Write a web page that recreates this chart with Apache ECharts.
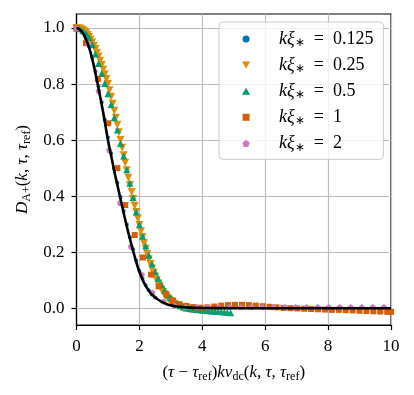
<!DOCTYPE html>
<html>
<head>
<meta charset="utf-8">
<script src="https://cdn.jsdelivr.net/npm/echarts@6.0.0/dist/echarts.min.js"></script>
<style>
  html, body { margin: 0; padding: 0; background: #fff; }
  #echart { width: 414px; height: 395px; }
</style>
</head>
<body>
<div id="echart"></div>
<script>
// x = (tau - tau_ref) k v_dc, y = D_A+(k, tau, tau_ref)
const legendNames = ['0.125', '0.25', '0.5', '1', '2']

// reference curve (black line)
const refX = [0, 0.1, 0.2, 0.3, 0.4, 0.5, 0.6, 0.7, 0.8, 0.9, 1.0, 1.1, 1.2, 1.3, 1.4, 1.5, 1.6, 1.7, 1.8, 1.9,
  2.0, 2.1, 2.2, 2.3, 2.4, 2.6, 2.8, 3.0, 3.3, 3.6, 4.0, 5, 6, 7, 8, 9, 10]
const refY = [1.0, 0.995, 0.982, 0.96, 0.93, 0.89, 0.84, 0.785, 0.728, 0.665, 0.6, 0.545, 0.49, 0.44, 0.39, 0.34, 0.292, 0.247, 0.205, 0.165,
  0.13, 0.102, 0.08, 0.062, 0.048, 0.03, 0.018, 0.01, 0.005, 0.002, 0.0005, 0, 0, 0, 0, 0, 0]

// k xi = 0.125 (sits almost under the black line)
const blueX = [0, 0.1, 0.2, 0.3, 0.4, 0.5, 0.6, 0.7, 0.8, 0.9, 1.0, 1.1, 1.2, 1.3, 1.4, 1.5, 1.6, 1.7, 1.8, 1.9, 2.0, 2.1, 2.2, 2.3, 2.4, 2.5]
const blueY = [1.0, 0.996, 0.984, 0.963, 0.934, 0.895, 0.846, 0.792, 0.735, 0.673, 0.609, 0.553, 0.498, 0.448, 0.397, 0.347, 0.299, 0.253, 0.21, 0.17,
  0.134, 0.105, 0.082, 0.064, 0.049, 0.038]

// k xi = 0.25
const orangeX = [0, 0.05, 0.1, 0.15, 0.2, 0.25, 0.3, 0.35, 0.4, 0.45, 0.5, 0.55, 0.6, 0.65, 0.7, 0.75, 0.8, 0.85, 0.9, 0.95,
  1.0, 1.05, 1.1, 1.15, 1.2, 1.25, 1.3, 1.35, 1.4, 1.45, 1.5, 1.55, 1.6, 1.65, 1.7, 1.75, 1.8, 1.85, 1.9, 1.95,
  2.0, 2.05, 2.1, 2.15, 2.2, 2.25, 2.3, 2.35, 2.4, 2.45, 2.5, 2.55, 2.6, 2.65, 2.7, 2.75, 2.8, 2.85, 2.9, 2.95,
  3.0, 3.05, 3.1, 3.15, 3.2, 3.25, 3.3, 3.35, 3.4, 3.45, 3.5, 3.55, 3.6, 3.65, 3.7, 3.75, 3.8]
const orangeY = [1.0, 0.999, 0.998, 0.996, 0.993, 0.988, 0.982, 0.975, 0.968, 0.958, 0.948, 0.937, 0.925, 0.912, 0.898, 0.883, 0.868, 0.852, 0.835, 0.818,
  0.8, 0.778, 0.755, 0.73, 0.705, 0.68, 0.655, 0.628, 0.6, 0.573, 0.546, 0.519, 0.492, 0.466, 0.44, 0.415, 0.39, 0.366, 0.343, 0.32,
  0.297, 0.275, 0.253, 0.232, 0.212, 0.193, 0.175, 0.158, 0.142, 0.127, 0.113, 0.1, 0.088, 0.077, 0.067, 0.058, 0.05, 0.043, 0.036, 0.03,
  0.025, 0.02, 0.016, 0.012, 0.009, 0.006, 0.004, 0.002, 0.001, 0, -0.001, -0.002, -0.003, -0.004, -0.004, -0.005, -0.005]

// k xi = 0.5
const greenX = [0, 0.1, 0.2, 0.3, 0.4, 0.5, 0.6, 0.7, 0.8, 0.9, 1.0, 1.1, 1.2, 1.3, 1.4, 1.5, 1.6, 1.7, 1.8, 1.9,
  2.0, 2.1, 2.2, 2.3, 2.4, 2.5, 2.6, 2.7, 2.8, 2.9, 3.0, 3.1, 3.2, 3.3, 3.4, 3.5, 3.6, 3.7, 3.8, 3.9,
  4.0, 4.1, 4.2, 4.3, 4.4, 4.5, 4.6, 4.7, 4.8, 4.9]
const greenY = [1.0, 0.997, 0.99, 0.98, 0.966, 0.94, 0.907, 0.873, 0.838, 0.802, 0.765, 0.727, 0.68, 0.636, 0.588, 0.543, 0.494, 0.446, 0.395, 0.343,
  0.298, 0.257, 0.222, 0.189, 0.158, 0.13, 0.106, 0.084, 0.064, 0.048, 0.036, 0.026, 0.017, 0.01, 0.005, 0.001, -0.001, -0.003, -0.005, -0.006,
  -0.007, -0.008, -0.009, -0.01, -0.011, -0.012, -0.013, -0.014, -0.015, -0.016]

// k xi = 1
const redX = [0, 0.3, 0.68, 1.01, 1.3, 1.55, 1.85, 2.11, 2.37, 2.61, 2.85, 3.07, 3.28, 3.5, 3.72, 3.94, 4.16, 4.38, 4.6, 4.82,
  5.04, 5.26, 5.48, 5.7, 5.92, 6.14, 6.36, 6.58, 6.8, 7.02, 7.24, 7.46, 7.68, 7.9, 8.12, 8.34, 8.56, 8.78, 9.0, 9.22,
  9.44, 9.66, 9.88, 10.0]
const redY = [1.0, 0.946, 0.818, 0.66, 0.5, 0.368, 0.261, 0.181, 0.12, 0.078, 0.05, 0.027, 0.014, 0.008, 0.004, 0.002, 0.003, 0.006, 0.009, 0.011,
  0.012, 0.012, 0.011, 0.009, 0.007, 0.005, 0.003, 0.001, 0, -0.001, -0.002, -0.003, -0.004, -0.005, -0.006, -0.006, -0.007, -0.008, -0.009, -0.01,
  -0.011, -0.012, -0.013, -0.013]

// k xi = 2
const pinkX = [0, 0.36, 0.7, 1.04, 1.38, 1.73, 2.08, 2.42, 2.77, 3.12, 3.47, 3.82, 4.17, 4.52, 4.87, 5.22, 5.57, 5.92, 6.27, 6.62,
  6.97, 7.32, 7.67, 8.02, 8.37, 8.72, 9.07, 9.42, 9.77]
const pinkY = [1.0, 0.945, 0.775, 0.565, 0.375, 0.22, 0.12, 0.056, 0.024, 0.01, 0.004, 0.004, 0.004, 0.004, 0.004, 0.004, 0.004, 0.004, 0.004, 0.004,
  0.004, 0.004, 0.004, 0.004, 0.004, 0.004, 0.004, 0.004, 0.004]

const yTicks = [0, 0.2, 0.4, 0.6, 0.8, 1.0]

const serif = 'Liberation Serif'
const rich = {
  i: { fontFamily: serif, fontStyle: 'italic', fontSize: 17, lineHeight: 20, color: '#000' },
  n: { fontFamily: serif, fontSize: 17, lineHeight: 20, color: '#000' },
  s: { fontFamily: serif, fontSize: 12, lineHeight: 9, verticalAlign: 'bottom', color: '#000' }
}
const legendRich = {
  i: { fontFamily: serif, fontStyle: 'italic', fontSize: 18, lineHeight: 20, color: '#000' },
  n: { fontFamily: serif, fontSize: 18, lineHeight: 20, color: '#000' },
  s: { fontFamily: serif, fontSize: 12, lineHeight: 9, verticalAlign: 'bottom', color: '#000' }
}

// legend / marker shapes
const pentagon = 'path://M0,-10L9.51,-3.09L5.88,8.09L-5.88,8.09L-9.51,-3.09Z'
const downTriangle = 'path://M-5,-4.3L5,-4.3L0,4.3Z'
const upTriangle = 'path://M-5,4.3L5,4.3L0,-4.3Z'
const square = 'path://M0,0L10,0L10,10L0,10Z'

function pairs(xs, ys) {
  return xs.map((x, i) => [x, ys[i]])
}

function scatter(name, xs, ys, color, symbol, size, rotate) {
  return {
    name: name,
    type: 'scatter',
    data: pairs(xs, ys),
    symbol: symbol,
    symbolSize: size,
    symbolRotate: rotate || 0,
    itemStyle: { color: color, opacity: 1 },
    emphasis: { disabled: true },
    silent: true
  }
}

const chart = echarts.init(document.getElementById('echart'), null, { renderer: 'canvas' })
chart.setOption({
  animation: false,
  backgroundColor: '#fff',
  grid: {
    left: 76.5, right: 23, top: 14, bottom: 70,
    show: true, borderColor: '#000', borderWidth: 1.2, backgroundColor: 'transparent'
  },
  legend: {
    orient: 'vertical',
    left: 219, top: 22,
    // the legend box starts at the icons, so the left padding makes room before them
    padding: [8, 10, 6, 23],
    itemWidth: 56, itemHeight: 7, itemGap: 7.1,
    backgroundColor: 'rgba(255,255,255,0.8)',
    borderColor: '#cccccc', borderWidth: 1, borderRadius: 4,
    data: [
      { name: legendNames[0], icon: 'circle' },
      { name: legendNames[1], icon: downTriangle },
      { name: legendNames[2], icon: upTriangle },
      { name: legendNames[3], icon: square },
      { name: legendNames[4], icon: pentagon }
    ],
    formatter: name => '{i|kξ}{s|∗}{n|  =  ' + name + '}',
    textStyle: { rich: legendRich }
  },
  xAxis: {
    type: 'value', min: 0, max: 10, interval: 2,
    name: '{n|(}{i|τ}{n| − }{i|τ}{s|ref}{n|)}{i|kv}{s|dc}{n|(}{i|k}{n|, }{i|τ}{n|, }{i|τ}{s|ref}{n|)}',
    nameLocation: 'middle', nameGap: 38,
    nameTextStyle: { rich: rich },
    axisLine: { onZero: false, lineStyle: { color: '#000', width: 1.2 } },
    axisTick: { length: 5, lineStyle: { color: '#000', width: 1.2 } },
    axisLabel: { margin: 13, fontFamily: serif, fontSize: 17, color: '#000' },
    splitLine: { show: true, lineStyle: { color: '#bdbdbd', width: 1.2 } }
  },
  yAxis: {
    type: 'value', min: -0.06, max: 1.05,
    name: '{i|D}{s|A+}{n|(}{i|k}{n|, }{i|τ}{n|, }{i|τ}{s|ref}{n|)}',
    nameLocation: 'middle', nameGap: 44, nameRotate: 90,
    nameTextStyle: { rich: rich },
    axisLine: { onZero: false, lineStyle: { color: '#000', width: 1.2 } },
    axisTick: { length: 5, customValues: yTicks, lineStyle: { color: '#000', width: 1.2 } },
    axisLabel: {
      margin: 12, fontFamily: serif, fontSize: 17, color: '#000',
      customValues: yTicks,
      formatter: v => v.toFixed(1)
    },
    splitLine: { show: true, lineStyle: { color: '#bdbdbd', width: 1.2 } }
  },
  series: [
    scatter(legendNames[0], blueX, blueY, '#0173b2', 'circle', 4),
    scatter(legendNames[1], orangeX, orangeY, '#de8f05', 'triangle', 8, 180),
    scatter(legendNames[2], greenX, greenY, '#029e73', 'triangle', 7),
    scatter(legendNames[3], redX, redY, '#d55e00', 'rect', 6),
    scatter(legendNames[4], pinkX, pinkY, '#cc78bc', pentagon, 6),
    {
      name: 'ref',
      type: 'line',
      data: pairs(refX, refY),
      smooth: true,
      showSymbol: false,
      z: 10,
      lineStyle: { color: '#000', width: 2.6 },
      silent: true
    }
  ]
})
</script>
</body>
</html>
